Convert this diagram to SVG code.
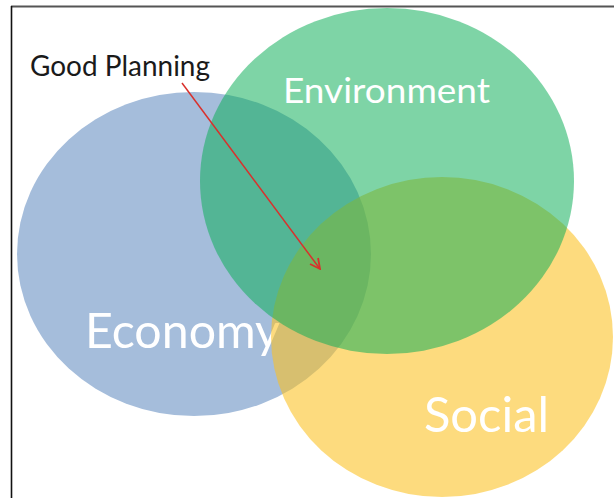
<svg xmlns="http://www.w3.org/2000/svg" width="614" height="498" viewBox="0 0 614 498">
  <style>
    .label { font-family: Lato, "Open Sans", "Liberation Sans", sans-serif; fill: #ffffff; }
    .note { font-family: Lato, "Open Sans", "Liberation Sans", sans-serif; fill: #1a1a1a; }
    .conn { stroke: #d9302c; stroke-width: 1.5; fill: none; }
  </style>
  <defs>
    <marker id="arrow" viewBox="0 0 12 12" refX="11" refY="6" markerWidth="12" markerHeight="12" markerUnits="userSpaceOnUse" orient="auto">
      <path d="M1,1 L11,6 L1,11" fill="none" stroke="#d9302c" stroke-width="1.8" stroke-linejoin="miter"/>
    </marker>
  </defs>

  <rect x="0" y="0" width="614" height="498" fill="#ffffff"/>

  <!-- frame: top and left edges -->
  <line x1="11" y1="6.5" x2="614" y2="6.5" stroke="#555555" stroke-width="2"/>
  <line x1="11.5" y1="6" x2="11.5" y2="498" stroke="#111111" stroke-width="1.6"/>

  <g id="economy">
    <ellipse cx="194" cy="254" rx="177" ry="162" fill="#a5bddb"/>
    <text class="label" x="85" y="348" font-size="48" textLength="195" lengthAdjust="spacingAndGlyphs">Economy</text>
  </g>

  <g id="social">
    <ellipse cx="442" cy="337" rx="171" ry="160" fill="#fcc121" fill-opacity="0.58"/>
    <text class="label" x="424" y="432" font-size="48" textLength="125" lengthAdjust="spacingAndGlyphs">Social</text>
  </g>

  <g id="environment">
    <ellipse cx="387" cy="181" rx="187" ry="173" fill="#0bae57" fill-opacity="0.53"/>
    <text class="label" x="283" y="103" font-size="35" textLength="207" lengthAdjust="spacingAndGlyphs">Environment</text>
  </g>

  <g id="good-planning">
    <text class="note" x="30" y="76" font-size="28" textLength="180" lengthAdjust="spacingAndGlyphs">Good Planning</text>
  </g>

  <g id="connectors">
    <line class="conn" x1="182" y1="83" x2="320" y2="269" marker-end="url(#arrow)"/>
  </g>
</svg>
